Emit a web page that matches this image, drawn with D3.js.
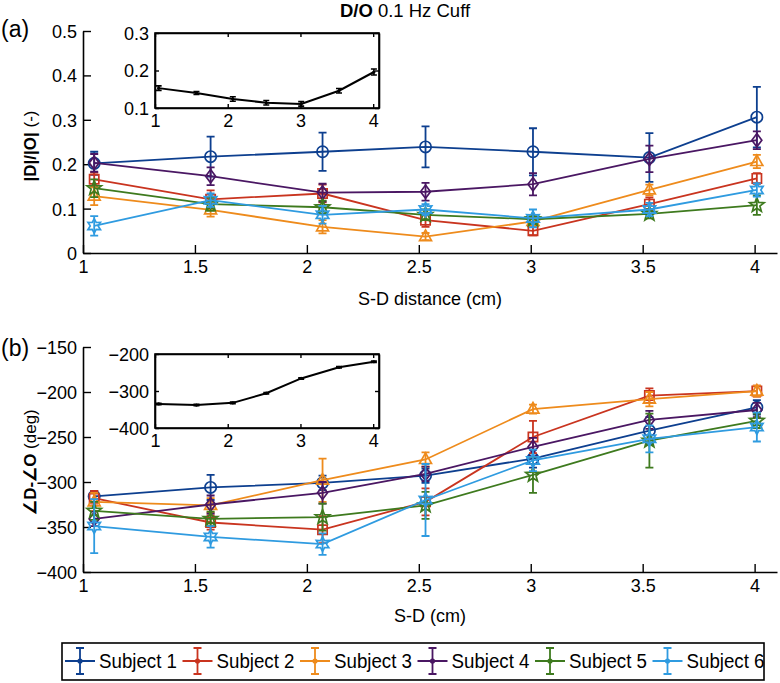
<!DOCTYPE html>
<html><head><meta charset="utf-8">
<script src="https://cdn.jsdelivr.net/npm/d3@7"></script>
<style>body{margin:0;background:#fff}svg{display:block;font-family:"Liberation Sans",Arial,sans-serif}</style>
</head><body><svg id="c" width="780" height="683"></svg>
<script>
// ---- data ----
const sd = [1.05, 1.57, 2.07, 2.53, 3.01, 3.53, 4.01];
const subjects = ["Subject 1","Subject 2","Subject 3","Subject 4","Subject 5","Subject 6"];
const colors = ["#0d3f8f","#c9341f","#ee8b1c","#4a1763","#3e7a1e","#2f9be0"];
const markers = ["circle","square","triangle","diamond","pentagram","hexagram"];
// panel (a) |D|/|O|
const magS1 = [0.202,0.217,0.228,0.239,0.228,0.215,0.306];
const magS2 = [0.166,0.121,0.134,0.074,0.050,0.110,0.168];
const magS3 = [0.128,0.097,0.059,0.037,0.071,0.142,0.206];
const magS4 = [0.203,0.173,0.136,0.138,0.155,0.212,0.254];
const magS5 = [0.146,0.110,0.103,0.086,0.076,0.088,0.108];
const magS6 = [0.061,0.119,0.086,0.098,0.078,0.098,0.142];
const magErrS1 = [0.026,0.045,0.043,0.046,0.053,0.055,0.068];
const magErrS2 = [0.015,0.020,0.020,0.015,0.010,0.015,0.012];
const magErrS3 = [0.020,0.015,0.015,0.008,0.010,0.012,0.015];
const magErrS4 = [0.020,0.020,0.020,0.020,0.025,0.030,0.020];
const magErrS5 = [0.020,0.015,0.015,0.012,0.010,0.010,0.022];
const magErrS6 = [0.022,0.015,0.020,0.012,0.020,0.015,0.015];
// panel (b) phase difference
const phS1 = [-316,-306,-301,-293,-274,-243,-217];
const phS2 = [-318,-345,-353,-322,-250,-204,-199];
const phS3 = [-322,-326,-298,-275,-219,-208,-199];
const phS4 = [-341,-325,-312,-291,-261,-231,-220];
const phS5 = [-332,-341,-339,-326,-292,-254,-232];
const phS6 = [-349,-361,-369,-320,-276,-252,-239];
const phErrS1 = [6,14,8,8,10,15,8];
const phErrS2 = [8,8,15,15,18,8,6];
const phErrS3 = [10,8,24,8,5,8,6];
const phErrS4 = [8,10,12,8,10,10,8];
const phErrS5 = [10,8,15,15,20,30,8];
const phErrS6 = [30,12,12,40,12,15,16];
// insets (mean across subjects)
const insetMag = [0.153,0.140,0.124,0.114,0.111,0.146,0.196];
const insetMagErr = [0.006,0.004,0.006,0.006,0.006,0.006,0.008];
const insetPh = [-335,-338,-332,-306,-266,-236,-221];
const insetPhErr = [2,2,2,2,2,2,2];
const magTicks = [0,0.1,0.2,0.3,0.4,0.5];
const phTicks = [-400,-350,-300,-250,-200,-150];
const xTicks = [1,1.5,2,2.5,3,3.5,4];
const insetXTicks = [1,2,3,4];
const insetMagTicks = [0.1,0.2,0.3];
const insetPhTicks = [-400,-300,-200];

const magVals = [magS1,magS2,magS3,magS4,magS5,magS6];
const magErrs = [magErrS1,magErrS2,magErrS3,magErrS4,magErrS5,magErrS6];
const phVals = [phS1,phS2,phS3,phS4,phS5,phS6];
const phErrs = [phErrS1,phErrS2,phErrS3,phErrS4,phErrS5,phErrS6];

// ---- symbols (size = radius^2) ----
function starType(n, ratio){
  return {draw(ctx,size){const r=Math.sqrt(size), ri=r*ratio;
    for(let i=0;i<2*n;i++){const a=-Math.PI/2+i*Math.PI/n, rr=i%2?ri:r;
      const x=rr*Math.cos(a), y=rr*Math.sin(a); i?ctx.lineTo(x,y):ctx.moveTo(x,y);} ctx.closePath();}};
}
const symTypes = {
  circle:{draw(ctx,size){const r=Math.sqrt(size);ctx.moveTo(r,0);ctx.arc(0,0,r,0,2*Math.PI);}},
  square:{draw(ctx,size){const s=Math.sqrt(size)*0.82;ctx.moveTo(-s,-s);ctx.lineTo(s,-s);ctx.lineTo(s,s);ctx.lineTo(-s,s);ctx.closePath();}},
  triangle:{draw(ctx,size){const r=Math.sqrt(size);ctx.moveTo(0,-r);ctx.lineTo(r*0.9,r*0.6);ctx.lineTo(-r*0.9,r*0.6);ctx.closePath();}},
  diamond:{draw(ctx,size){const r=Math.sqrt(size);ctx.moveTo(0,-r);ctx.lineTo(r*0.75,0);ctx.lineTo(0,r);ctx.lineTo(-r*0.75,0);ctx.closePath();}},
  pentagram: starType(5,0.42),
  hexagram: starType(6,0.55)
};
const symSize = {circle:32,square:32,triangle:44,diamond:44,pentagram:58,hexagram:52};

const svg = d3.select("#c");
const FS = 18;

function axisStyle(g){
  g.selectAll("path.domain").attr("stroke","#000").attr("stroke-width",1.6);
  g.selectAll(".tick line").attr("stroke","#000").attr("stroke-width",1.4);
  g.selectAll(".tick text").attr("font-size",FS).attr("fill","#000").attr("font-family","Liberation Sans, Arial, sans-serif");
}

function mainPanel(top, bottom, yDomain, yTicks, vals, errs, yFmt){
  const x = d3.scaleLinear().domain([1,4.1]).range([83,777]);
  const y = d3.scaleLinear().domain(yDomain).range([bottom, top]);
  const gx = svg.append("g").attr("transform",`translate(0,${bottom})`)
    .call(d3.axisBottom(x).tickValues(xTicks).tickFormat(d3.format("")).tickSizeInner(-8).tickSizeOuter(0).tickPadding(7));
  axisStyle(gx);
  const gy = svg.append("g").attr("transform",`translate(83,0)`)
    .call(d3.axisLeft(y).tickValues(yTicks).tickFormat(yFmt).tickSizeInner(-8).tickSizeOuter(0).tickPadding(6));
  axisStyle(gy);
  gy.selectAll(".tick text").attr("dy","0.36em");
  vals.forEach((v,i)=>{
    const g = svg.append("g");
    const pts = v.map((d,j)=>({x:sd[j],y:d,e:errs[i][j]}));
    pts.forEach(p=>{
      const cx=x(p.x), y1=y(p.y+p.e), y2=y(p.y-p.e);
      g.append("path").attr("d",`M${cx},${y1}V${y2}M${cx-4},${y1}H${cx+4}M${cx-4},${y2}H${cx+4}`)
        .attr("stroke",colors[i]).attr("stroke-width",1.8).attr("fill","none");
    });
    g.append("path").datum(pts).attr("d",d3.line().x(p=>x(p.x)).y(p=>y(p.y)))
      .attr("stroke",colors[i]).attr("stroke-width",1.8).attr("fill","none");
    g.selectAll("path.m").data(pts).join("path").attr("class","m")
      .attr("transform",p=>`translate(${x(p.x)},${y(p.y)})`)
      .attr("d",d3.symbol().type(symTypes[markers[i]]).size(symSize[markers[i]]))
      .attr("fill","none").attr("stroke",colors[i]).attr("stroke-width",1.7);
  });
  return {x,y};
}

function inset(left,right,top,bottom,yDomain,yTicks,vals,errs){
  const x = d3.scaleLinear().domain([1,4.08]).range([left,right]);
  const y = d3.scaleLinear().domain(yDomain).range([bottom,top]);
  svg.append("rect").attr("x",left).attr("y",top).attr("width",right-left).attr("height",bottom-top)
    .attr("fill","#fff").attr("stroke","#000").attr("stroke-width",1.6);
  const gx = svg.append("g").attr("transform",`translate(0,${bottom})`)
    .call(d3.axisBottom(x).tickValues(insetXTicks).tickFormat(d3.format("")).tickSizeInner(-4).tickSizeOuter(0).tickPadding(6));
  axisStyle(gx);
  const gxt = svg.append("g").attr("transform",`translate(0,${top})`)
    .call(d3.axisTop(x).tickValues(insetXTicks).tickFormat("").tickSizeInner(-4).tickSizeOuter(0));
  axisStyle(gxt);
  const gy = svg.append("g").attr("transform",`translate(${left},0)`)
    .call(d3.axisLeft(y).tickValues(yTicks).tickFormat(d=>d3.format("")(d)).tickSizeInner(-4).tickSizeOuter(0).tickPadding(6));
  axisStyle(gy);
  gy.selectAll(".tick text").attr("dy","0.36em");
  const gyr = svg.append("g").attr("transform",`translate(${right},0)`)
    .call(d3.axisRight(y).tickValues(yTicks).tickFormat("").tickSizeInner(-4).tickSizeOuter(0));
  axisStyle(gyr);
  const pts = vals.map((d,j)=>({x:sd[j],y:d,e:errs[j]}));
  const g = svg.append("g");
  pts.forEach(p=>{
    const cx=x(p.x), y1=y(p.y+p.e), y2=y(p.y-p.e);
    g.append("path").attr("d",`M${cx},${y1}V${y2}M${cx-3},${y1}H${cx+3}M${cx-3},${y2}H${cx+3}`)
      .attr("stroke","#000").attr("stroke-width",1.6).attr("fill","none");
  });
  g.append("path").datum(pts).attr("d",d3.line().x(p=>x(p.x)).y(p=>y(p.y)))
    .attr("stroke","#000").attr("stroke-width",2).attr("fill","none");
  g.selectAll("circle").data(pts).join("circle").attr("cx",p=>x(p.x)).attr("cy",p=>y(p.y)).attr("r",1.6).attr("fill","#000");
}

// Panel (a)
mainPanel(31,253,[0,0.5],magTicks,magVals,magErrs,d=>d3.format("")(d));
inset(155,379,33,108,[0.1,0.3],insetMagTicks,insetMag,insetMagErr);
// Panel (b)
mainPanel(347,572,[-400,-150],phTicks,phVals,phErrs,d=>d3.format("")(d));
inset(155,379,354,428,[-400,-200],insetPhTicks,insetPh,insetPhErr);

// Text
const title = svg.append("text").attr("x",405).attr("y",17).attr("text-anchor","middle").attr("font-size",18.5);
title.append("tspan").attr("font-weight","bold").text("D/O");
title.append("tspan").text(" 0.1 Hz Cuff");
svg.append("text").attr("x",1).attr("y",37).attr("font-size",23).text("(a)");
svg.append("text").attr("x",1).attr("y",356).attr("font-size",23).text("(b)");
svg.append("text").attr("x",430).attr("y",305).attr("text-anchor","middle").attr("font-size",FS).text("S-D distance (cm)");
svg.append("text").attr("x",430).attr("y",622).attr("text-anchor","middle").attr("font-size",FS).text("S-D (cm)");
const yla = svg.append("text").attr("transform","translate(36,146) rotate(-90)").attr("text-anchor","middle").attr("font-size",17);
yla.append("tspan").attr("font-weight","bold").text("|D|/|O|");
yla.append("tspan").text(" (-)");
const ylb = svg.append("text").attr("transform","translate(36,462) rotate(-90)").attr("text-anchor","middle").attr("font-size",17);
ylb.append("tspan").attr("font-weight","bold").text("∠D-∠O");
ylb.append("tspan").text(" (deg)");

// Legend
svg.append("rect").attr("x",62).attr("y",643).attr("width",702).attr("height",37).attr("fill","#fff").attr("stroke","#000").attr("stroke-width",1.6);
const lg = svg.append("g").selectAll("g").data(subjects).join("g")
  .attr("transform",(d,i)=>`translate(${65+i*117.5},661)`);
lg.append("path").attr("d","M0,0H30M15,-13V13M11,-13H19M11,13H19")
  .attr("stroke",(d,i)=>colors[i]).attr("stroke-width",1.8).attr("fill","none");
lg.append("circle").attr("cx",15).attr("r",2.6).attr("fill",(d,i)=>colors[i]);
lg.append("text").attr("x",34).attr("y",7).attr("font-size",20).attr("textLength",78).attr("lengthAdjust","spacingAndGlyphs").text(d=>d);
</script></body></html>
